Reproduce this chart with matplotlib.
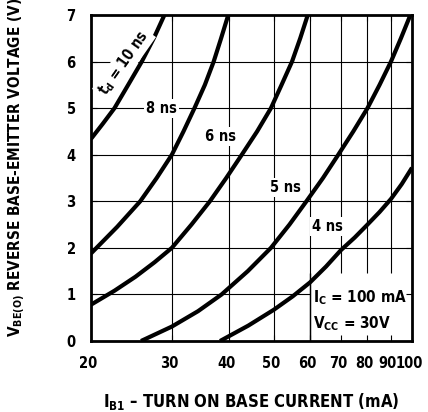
import matplotlib

matplotlib.use("Agg")
import matplotlib.pyplot as plt
from matplotlib.ticker import FixedLocator, NullLocator
from matplotlib.transforms import ScaledTranslation

plt.rcParams["font.family"] = ["DejaVu Sans"]
plt.rcParams["font.stretch"] = "condensed"
plt.rcParams["font.weight"] = "bold"
plt.rcParams["mathtext.fontset"] = "custom"
plt.rcParams["mathtext.rm"] = "DejaVu Sans:weight=bold:stretch=condensed"
plt.rcParams["mathtext.it"] = "DejaVu Sans:weight=bold:stretch=condensed"
plt.rcParams["mathtext.default"] = "rm"

# ---- data (I_B1 in mA, V_BE(O) in V) ----
td10_i = [20, 21.2, 22.5, 24.1, 25.8, 27.4, 28.9]
td10_v = [4.34, 4.66, 5, 5.5, 6, 6.5, 7]
td8_i = [20, 22.8, 25.6, 27.8, 30, 31.8, 33.6, 35.4, 37.0, 38.4, 39.8]
td8_v = [1.88, 2.45, 3, 3.5, 4, 4.5, 5, 5.5, 6, 6.5, 7]
td6_i = [20, 22.5, 25, 27.5, 30, 33.1, 36.3, 39.4, 42.6, 46, 49.3, 52, 54.8, 57.1, 59.3]
td6_v = [0.78, 1.08, 1.38, 1.69, 2, 2.5, 3, 3.5, 4, 4.5, 5, 5.5, 6, 6.5, 7]
td5_i = [25.7, 30, 34.2, 38.5, 43.9, 49.3, 54.1, 58.9, 64, 69.1, 74.5, 80, 85, 90, 94.6, 99.2]
td5_v = [0, 0.31, 0.64, 1, 1.5, 2, 2.5, 3, 3.5, 4, 4.5, 5, 5.5, 6, 6.5, 7]
td4_i = [38.2, 44, 50, 55, 60, 65, 70, 75, 80, 85, 90, 95, 100]
td4_v = [0, 0.33, 0.67, 0.96, 1.26, 1.6, 1.95, 2.22, 2.5, 2.77, 3.05, 3.37, 3.72]

curve_labels = ["t$_d$ = 10 ns", "8 ns", "6 ns", "5 ns", "4 ns"]
label_i = [23.6, 28.5, 38.2, 53.0, 65.5]
label_v = [5.97, 5.0, 4.39, 3.30, 2.46]
label_rot = [55, 0, 0, 0, 0]

x_ticks = [20, 30, 40, 50, 60, 70, 80, 90, 100]
y_ticks = [0, 1, 2, 3, 4, 5, 6, 7]

# conditions box (lower right corner)
box_i = 60
box_top = 1.45
cond_lines = ["I$_{C}$ = 100 mA", "V$_{CC}$ = 30V"]
cond_v = [0.93, 0.38]
cond_i = 61.0

fig = plt.figure(figsize=(4.28, 4.12), dpi=100)
ax = fig.add_axes([0.2126, 0.1723, 0.75, 0.7913])
ax.set_xscale("log")
ax.set_xlim(20, 100)
ax.set_ylim(0, 7)

# grid drawn by hand so it can stop at the conditions box
for x in x_ticks[1:-1]:
    lo = box_top if x > box_i else 0
    ax.vlines(x, lo, 7, color="black", linewidth=0.8, zorder=1)
for y in y_ticks[1:-1]:
    hi = box_i if y < box_top else 100
    ax.hlines(y, 20, hi, color="black", linewidth=0.8, zorder=1)
ax.vlines(box_i, 0, box_top, color="black", linewidth=1.0, zorder=1)

curves = [(td10_i, td10_v), (td8_i, td8_v), (td6_i, td6_v),
          (td5_i, td5_v), (td4_i, td4_v)]
for ci, cv in curves:
    ax.plot(ci, cv, color="black", linewidth=3.0, solid_capstyle="butt",
            solid_joinstyle="round", zorder=3)

for txt, xi, yv, rot in zip(curve_labels, label_i, label_v, label_rot):
    ax.text(xi, yv, txt, ha="center", va="center", rotation=rot,
            fontsize=10.5, fontweight="bold", zorder=4,
            bbox=dict(facecolor="white", edgecolor="none", pad=1.5))

for txt, yv in zip(cond_lines, cond_v):
    ax.text(cond_i, yv, txt, ha="left", va="center", fontsize=11,
            fontweight="bold", zorder=4)

ax.xaxis.set_major_locator(FixedLocator(x_ticks))
ax.xaxis.set_minor_locator(NullLocator())
ax.set_xticklabels([str(t) for t in x_ticks])
ax.set_yticks(y_ticks)
ax.tick_params(direction="in", length=4, width=0.8, labelsize=10.5,
               top=True, right=True, pad=11)
for lab in ax.get_xticklabels():
    lab.set_transform(lab.get_transform()
                      + ScaledTranslation(-3 / 100, 0, fig.dpi_scale_trans))
for sp in ax.spines.values():
    sp.set_linewidth(2.0)

ax.set_xlabel("I$_{B1}$ \u2013 TURN ON BASE CURRENT (mA)", fontsize=12,
              fontweight="bold", labelpad=14)
fig.text(17 / 428, 1 - 337 / 412,
         "V$_{BE(O)}$ REVERSE BASE-EMITTER VOLTAGE (V)",
         rotation=90, ha="center", va="bottom", fontsize=11,
         fontweight="bold")

fig.savefig("out.png", dpi=100)
